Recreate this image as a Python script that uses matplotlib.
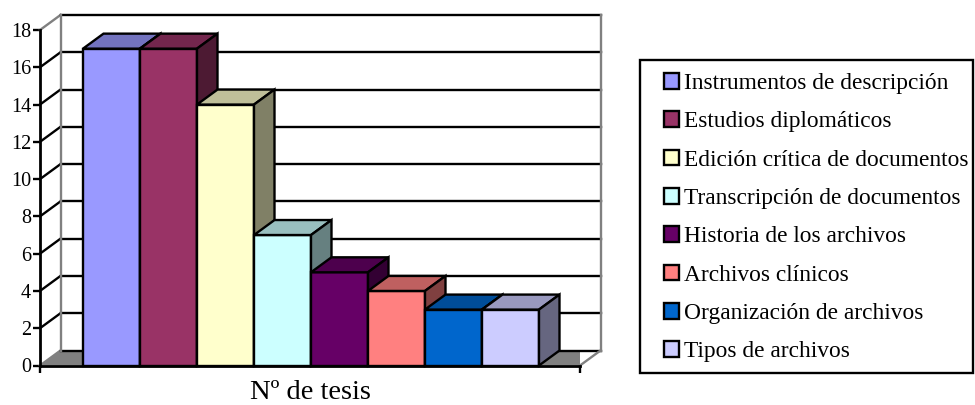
import numpy as np
from matplotlib import pyplot as plt
from matplotlib.colors import to_rgb
from matplotlib.patches import Patch, Rectangle

plt.rcParams['font.family'] = ['Liberation Serif']

categories = ['Instrumentos de descripción', 'Estudios diplomáticos',
              'Edición crítica de documentos', 'Transcripción de documentos',
              'Historia de los archivos', 'Archivos clínicos',
              'Organización de archivos', 'Tipos de archivos']
values = [17, 17, 14, 7, 5, 4, 3, 3]
colors = ['#9999FF', '#993366', '#FFFFCC', '#CCFFFF',
          '#660066', '#FF8080', '#0066CC', '#CCCCFF']
y_ticks = [0, 2, 4, 6, 8, 10, 12, 14, 16, 18]

W, H = 975, 405
LW = 1.7

fig = plt.figure(figsize=(W / 100, H / 100), dpi=100)
# front plane of the fake 3d box
left, right, top, bottom = 40, 580, 30, 365.5
ax = fig.add_axes([left / W, 1 - bottom / H, (right - left) / W, (bottom - top) / H])

x0 = -43 / 57
ax.set_xlim(x0, x0 + (right - left) / 57)
ax.set_ylim(0, 18)
xmin, xmax = ax.get_xlim()

# depth of the box in data units
dx = 20.5 / 57
dy = 15 / ((bottom - top) / 18)


def shade(color, factor):
    return tuple(np.array(to_rgb(color)) * factor)


# floor
ax.fill([xmin, xmin + dx, xmax + dx, xmax], [0, dy, dy, 0], color='#808080', lw=0, zorder=1)

# grid lines, side wall then back wall
for t in y_ticks:
    side_color = '#808080' if t in (0, 18) else 'black'
    ax.plot([xmin, xmin + dx], [t, t + dy], color=side_color, lw=LW, zorder=2, clip_on=False)
    ax.plot([xmin + dx, xmax + dx], [t + dy, t + dy], color='black', lw=LW, zorder=2, clip_on=False)
ax.plot([xmax, xmax + dx], [0, dy], color='#808080', lw=LW, zorder=2, clip_on=False)

# walls
ax.plot([xmin + dx, xmin + dx], [dy, 18 + dy], color='#808080', lw=LW, zorder=2.5, clip_on=False)
ax.plot([xmax + dx, xmax + dx], [dy, 18 + dy], color='#808080', lw=LW, zorder=2.5, clip_on=False)

# bars, left to right so each one hides the side of the one before
for i, (v, c) in enumerate(zip(values, colors)):
    z = 3 + i
    ax.bar(i, v, width=1, align='edge', color=c, edgecolor='black', linewidth=LW, zorder=z, clip_on=False)
    ax.fill([i, i + dx, i + 1 + dx, i + 1], [v, v + dy, v + dy, v], facecolor=shade(c, 0.75),
            edgecolor='black', linewidth=LW, zorder=z, clip_on=False)
    ax.fill([i + 1, i + 1 + dx, i + 1 + dx, i + 1], [0, dy, v + dy, v], facecolor=shade(c, 0.5),
            edgecolor='black', linewidth=LW, zorder=z, clip_on=False)

# axes
for s in ['top', 'right']:
    ax.spines[s].set_visible(False)
for s in ['left', 'bottom']:
    ax.spines[s].set_linewidth(LW + 0.3)
    ax.spines[s].set_zorder(20)
ax.patch.set_alpha(0)
ax.set_yticks(y_ticks)
ax.set_xticks([xmin, xmax])
ax.set_xticklabels([])
ax.tick_params(axis='y', length=5, width=LW, labelsize=14.5, pad=1.5)
ax.tick_params(axis='x', length=5, width=LW)
ax.set_xlabel('Nº de tesis', fontsize=20.5, labelpad=2)

# legend frame drawn apart because its left margin is wider than the right one
fig.add_artist(Rectangle((640 / W, 1 - 373 / H), 333 / W, 313 / H, transform=fig.transFigure,
                         facecolor='white', edgecolor='black', linewidth=LW))
handles = [Patch(facecolor=c, edgecolor='black', linewidth=LW) for c in colors]
leg = fig.legend(handles, categories, loc='upper left',
                 bbox_to_anchor=(664 / W, 1 - 73 / H), bbox_transform=fig.transFigure,
                 fontsize=16.85, frameon=False, handlelength=0.65, handleheight=0.65,
                 handletextpad=0.2, labelspacing=0.74, borderpad=0, borderaxespad=0)

fig.savefig('out.png', dpi=100)
